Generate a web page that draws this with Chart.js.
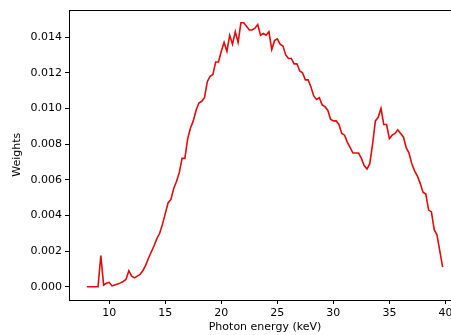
<!DOCTYPE html>
<html lang="en">
<head>
<meta charset="UTF-8">
<title>Weights vs photon energy</title>
<script src="https://cdn.jsdelivr.net/npm/chart.js"></script>
<style>
  html, body { margin: 0; padding: 0; background: #fff; overflow: hidden; }
  #wrap { width: 451px; height: 335px; overflow: hidden; }
</style>
</head>
<body>
<div id="wrap"><canvas id="weightsChart" width="475" height="335"></canvas></div>
<script>
// photon energies in keV
const energies = [
  8.00, 8.25, 8.50, 8.75, 9.00, 9.25, 9.50, 9.75,
  10.00, 10.25, 10.50, 10.75, 11.00, 11.25, 11.50, 11.75,
  12.00, 12.25, 12.50, 12.75, 13.00, 13.25, 13.50, 13.75,
  14.00, 14.25, 14.50, 14.75, 15.00, 15.25, 15.50, 15.75,
  16.00, 16.25, 16.50, 16.75, 17.00, 17.25, 17.50, 17.75,
  18.00, 18.25, 18.50, 18.75, 19.00, 19.25, 19.50, 19.75,
  20.00, 20.25, 20.50, 20.75, 21.00, 21.25, 21.50, 21.75,
  22.00, 22.25, 22.50, 22.75, 23.00, 23.25, 23.50, 23.75,
  24.00, 24.25, 24.50, 24.75, 25.00, 25.25, 25.50, 25.75,
  26.00, 26.25, 26.50, 26.75, 27.00, 27.25, 27.50, 27.75,
  28.00, 28.25, 28.50, 28.75, 29.00, 29.25, 29.50, 29.75,
  30.00, 30.25, 30.50, 30.75, 31.00, 31.25, 31.50, 31.75,
  32.00, 32.25, 32.50, 32.75, 33.00, 33.25, 33.50, 33.75,
  34.00, 34.25, 34.50, 34.75, 35.00, 35.25, 35.50, 35.75,
  36.00, 36.25, 36.50, 36.75, 37.00, 37.25, 37.50, 37.75,
  38.00, 38.25, 38.50, 38.75, 39.00, 39.25, 39.50, 39.75
];

// weight per energy bin
const weights = [
  0, 0, 0, 0, 0, 0.00175, 0.0001, 0.0002,
  0.00025, 0.00005, 0.0001, 0.00015, 0.00022, 0.0003, 0.00042, 0.0009,
  0.0006, 0.0005, 0.0006, 0.0007, 0.0009, 0.0012, 0.0016, 0.00195,
  0.0023, 0.0027, 0.0030, 0.0035, 0.0041, 0.0047, 0.0049, 0.0055,
  0.0059, 0.0064, 0.0072, 0.0072, 0.0083, 0.0089, 0.0093, 0.0099,
  0.0103, 0.0104, 0.0106, 0.0115, 0.0118, 0.0119, 0.0126, 0.0126,
  0.0132, 0.0137, 0.0132, 0.0141, 0.0136, 0.0143, 0.0137, 0.0148,
  0.0148, 0.0146, 0.0144, 0.0144, 0.0145, 0.0147, 0.0141, 0.0142,
  0.0141, 0.0143, 0.0133, 0.0138, 0.0139, 0.0136, 0.0135, 0.0130,
  0.0128, 0.0128, 0.0125, 0.0125, 0.0121, 0.0120, 0.0116, 0.0116,
  0.0112, 0.0107, 0.0105, 0.0106, 0.0102, 0.0101, 0.0099, 0.0094,
  0.0093, 0.0093, 0.0091, 0.0086, 0.0085, 0.0081, 0.0078, 0.0075,
  0.0075, 0.0075, 0.0072, 0.0068, 0.0066, 0.0069, 0.0080, 0.0093,
  0.0095, 0.0100, 0.0091, 0.0091, 0.0083, 0.0085, 0.0086, 0.0088,
  0.0086, 0.0084, 0.0078, 0.0075, 0.0069, 0.0065, 0.0062, 0.0058,
  0.0053, 0.0052, 0.0043, 0.0042, 0.0032, 0.0029, 0.0020, 0.0011
];

const xTicks = [10, 15, 20, 25, 30, 35, 40];
const yTicks = [0, 0.002, 0.004, 0.006, 0.008, 0.010, 0.012, 0.014];

Chart.defaults.font.family = 'DejaVu Sans';
Chart.defaults.font.size = 11;
Chart.defaults.color = '#000';

// matplotlib style frame around the plot area
const framePlugin = {
  id: 'frame',
  afterDraw(chart) {
    const { ctx, chartArea: a } = chart;
    ctx.save();
    ctx.strokeStyle = '#000';
    ctx.lineWidth = 1;
    ctx.strokeRect(Math.round(a.left) + 0.5, Math.round(a.top) + 0.5,
                   Math.round(a.right - a.left), Math.round(a.bottom - a.top));
    ctx.restore();
  }
};

const ctx = document.getElementById('weightsChart').getContext('2d');
new Chart(ctx, {
  type: 'line',
  data: {
    datasets: [{
      data: energies.map((e, i) => ({ x: e, y: weights[i] })),
      borderColor: 'rgb(222, 12, 12)',
      borderWidth: 1.6,
      pointRadius: 0,
      fill: false,
      tension: 0
    }]
  },
  options: {
    responsive: false,
    animation: false,
    devicePixelRatio: 1,
    layout: { padding: { left: 0, top: 8, right: 14, bottom: 0 } },
    plugins: { legend: { display: false }, tooltip: { enabled: false } },
    scales: {
      x: {
        type: 'linear',
        min: 6.41,
        max: 41.39,
        afterBuildTicks: s => { s.ticks = xTicks.map(v => ({ value: v })); },
        afterFit: s => { s.height = 35; },
        grid: { drawOnChartArea: false, drawTicks: true, tickLength: 4, color: '#000' },
        border: { display: false },
        ticks: { padding: 3, maxRotation: 0, autoSkip: false, callback: v => String(v) },
        title: { display: true, text: 'Photon energy (keV)', padding: { top: 0, bottom: 1 } }
      },
      y: {
        type: 'linear',
        min: -0.00074,
        max: 0.01554,
        afterBuildTicks: s => { s.ticks = yTicks.map(v => ({ value: v })); },
        afterFit: s => { s.width = 69; },
        grid: { drawOnChartArea: false, drawTicks: true, tickLength: 4, color: '#000' },
        border: { display: false },
        ticks: { padding: 3, autoSkip: false, callback: v => v.toFixed(3) },
        title: { display: true, text: 'Weights', padding: { top: 11, bottom: 0 } }
      }
    }
  },
  plugins: [framePlugin]
});
</script>
</body>
</html>
